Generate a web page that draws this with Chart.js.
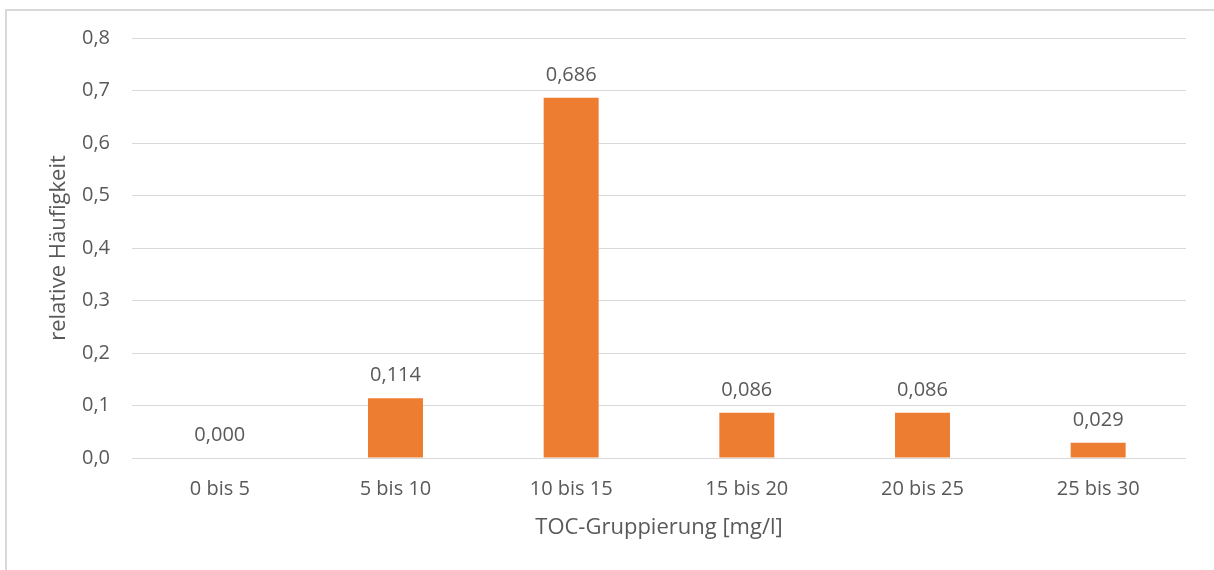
<!DOCTYPE html>
<html>
<head>
<meta charset="utf-8">
<script src="https://cdn.jsdelivr.net/npm/chart.js@4/dist/chart.umd.min.js"></script>
<style>
  html, body { margin: 0; padding: 0; background: #fff; overflow: hidden; }
  #wrap { position: relative; width: 1214px; height: 570px; }
  #frame { position: absolute; left: 5px; top: 9px; width: 1300px; height: 700px;
           border: 2px solid #d9d9d9; box-sizing: border-box; }
  canvas { position: absolute; left: 0; top: 0; }
</style>
</head>
<body>
<div id="wrap">
  <div id="frame"></div>
  <canvas id="c" width="1214" height="570"></canvas>
</div>
<script>
const categories = ['0 bis 5', '5 bis 10', '10 bis 15', '15 bis 20', '20 bis 25', '25 bis 30'];
const frequencies = [0.000, 0.114, 0.686, 0.086, 0.086, 0.029];
const yTitle = 'relative Häufigkeit';
const xTitle = 'TOC-Gruppierung [mg/l]';

const FONT = '"Open Sans", sans-serif';
const TEXT = '#595959';

// Value labels above each bar, German decimal comma, three places
const valueLabels = {
  id: 'valueLabels',
  afterDatasetsDraw(chart) {
    const ctx = chart.ctx;
    const meta = chart.getDatasetMeta(0);
    ctx.save();
    ctx.font = '20px ' + FONT;
    ctx.fillStyle = TEXT;
    ctx.textAlign = 'center';
    ctx.textBaseline = 'alphabetic';
    meta.data.forEach((bar, i) => {
      const txt = frequencies[i].toFixed(3).replace('.', ',');
      ctx.fillText(txt, bar.x, bar.y - 17);
    });
    ctx.restore();
  }
};

new Chart(document.getElementById('c'), {
  type: 'bar',
  data: {
    labels: categories,
    datasets: [{
      data: frequencies,
      backgroundColor: '#ed7d31',
      borderWidth: 0,
      barPercentage: 1,
      categoryPercentage: 0.313
    }]
  },
  options: {
    responsive: false,
    animation: false,
    devicePixelRatio: 1,
    layout: { padding: { left: 0, right: 28, top: 38, bottom: 0 } },
    plugins: { legend: { display: false }, tooltip: { enabled: false } },
    scales: {
      x: {
        afterFit(scale) { scale.height = 112; },
        grid: { display: false, drawTicks: false },
        border: { display: false },
        ticks: { color: TEXT, font: { family: FONT, size: 20 }, padding: 19 },
        title: { display: true, text: xTitle, color: TEXT, font: { family: FONT, size: 22 }, padding: { top: 0, bottom: 29 } }
      },
      y: {
        afterFit(scale) { scale.width = 132; },
        min: 0, max: 0.8,
        grid: { color: '#d9d9d9', lineWidth: 1, drawTicks: false },
        border: { display: false },
        ticks: {
          stepSize: 0.1, color: TEXT, font: { family: FONT, size: 20 }, padding: 22,
          callback: v => v.toFixed(1).replace('.', ',')
        },
        title: { display: true, text: yTitle, color: TEXT, font: { family: FONT, size: 22 }, padding: { top: 46, bottom: 0 } }
      }
    }
  },
  plugins: [valueLabels]
});
</script>
</body>
</html>
